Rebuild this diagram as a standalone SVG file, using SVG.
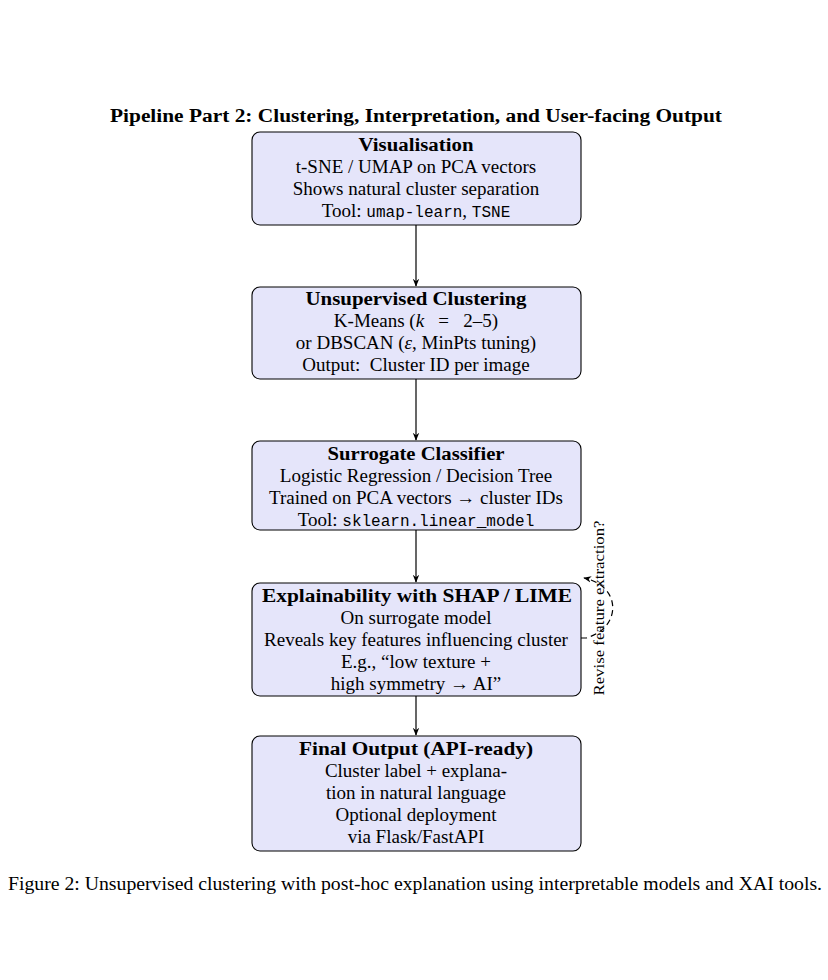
<svg xmlns="http://www.w3.org/2000/svg" width="828" height="980" viewBox="0 0 828 980">
<defs>
<style>
.box{fill:#e5e5fa;stroke:#000;stroke-width:1.1}
.t{font-family:"Liberation Serif","DejaVu Serif",serif;font-size:19px;fill:#000;text-anchor:middle;white-space:pre}
.b{font-weight:bold;font-size:18px}
.m{font-family:"Liberation Mono","DejaVu Sans Mono",monospace;font-size:16px}
.e{stroke:#000;stroke-width:1.2;fill:none}
</style>
<marker id="ah" viewBox="0 0 10 10" refX="9" refY="5" markerWidth="8" markerHeight="8" orient="auto" markerUnits="userSpaceOnUse">
<path d="M0,1 L10,5 L0,9 L3,5 Z" fill="#000"/>
</marker>
</defs>
<rect width="828" height="980" fill="#fff"/>
<text class="t b" x="416" y="122" textLength="612" lengthAdjust="spacingAndGlyphs">Pipeline Part 2: Clustering, Interpretation, and User-facing Output</text>

<g id="connectors">
<line class="e" x1="416" y1="225" x2="416" y2="286" marker-end="url(#ah)"/>
<line class="e" x1="416" y1="379" x2="416" y2="440" marker-end="url(#ah)"/>
<line class="e" x1="416" y1="530" x2="416" y2="582" marker-end="url(#ah)"/>
<line class="e" x1="416" y1="696" x2="416" y2="735" marker-end="url(#ah)"/>
<path class="e" d="M581,638 L586,638 C622,628 622,586 584,578" stroke-dasharray="6 4" marker-end="url(#ah)"/>
<text class="t" style="font-size:14px" x="604" y="608" transform="rotate(-90 604 608)" textLength="175" lengthAdjust="spacingAndGlyphs">Revise feature extraction?</text>
</g>

<g id="visualisation">
<rect class="box" x="252" y="132" width="329" height="93" rx="8"/>
<text class="t b" x="416" y="151" textLength="115" lengthAdjust="spacingAndGlyphs">Visualisation</text>
<text class="t" x="416" y="173">t-SNE / UMAP on PCA vectors</text>
<text class="t" x="416" y="195">Shows natural cluster separation</text>
<text class="t" x="416" y="217">Tool: <tspan class="m">umap-learn</tspan>, <tspan class="m">TSNE</tspan></text>
</g>

<g id="clustering">
<rect class="box" x="252" y="287" width="329" height="92" rx="8"/>
<text class="t b" x="416" y="305" textLength="221" lengthAdjust="spacingAndGlyphs">Unsupervised Clustering</text>
<text class="t" x="416" y="327">K-Means (<tspan font-style="italic">k</tspan>   =   2–5)</text>
<text class="t" x="416" y="349">or DBSCAN (<tspan font-style="italic">ε</tspan>, MinPts tuning)</text>
<text class="t" x="416" y="371">Output:  Cluster ID per image</text>
</g>

<g id="surrogate">
<rect class="box" x="252" y="441" width="329" height="89" rx="8"/>
<text class="t b" x="416" y="460" textLength="177" lengthAdjust="spacingAndGlyphs">Surrogate Classifier</text>
<text class="t" x="416" y="482">Logistic Regression / Decision Tree</text>
<text class="t" x="416" y="504">Trained on PCA vectors → cluster IDs</text>
<text class="t" x="416" y="526">Tool: <tspan class="m">sklearn.linear_model</tspan></text>
</g>

<g id="explainability">
<rect class="box" x="252" y="583" width="329" height="113" rx="8"/>
<text class="t b" x="417" y="602" textLength="310" lengthAdjust="spacingAndGlyphs">Explainability with SHAP / LIME</text>
<text class="t" x="416" y="624">On surrogate model</text>
<text class="t" x="416" y="646">Reveals key features influencing cluster</text>
<text class="t" x="416" y="668">E.g., “low texture +</text>
<text class="t" x="416" y="690">high symmetry → AI”</text>
</g>

<g id="final">
<rect class="box" x="252" y="736" width="329" height="115" rx="8"/>
<text class="t b" x="416" y="755" textLength="234" lengthAdjust="spacingAndGlyphs">Final Output (API-ready)</text>
<text class="t" x="416" y="777">Cluster label + explana-</text>
<text class="t" x="416" y="799">tion in natural language</text>
<text class="t" x="416" y="821">Optional deployment</text>
<text class="t" x="416" y="843">via Flask/FastAPI</text>
</g>

<text class="t" x="415" y="890" textLength="814" lengthAdjust="spacingAndGlyphs">Figure 2: Unsupervised clustering with post-hoc explanation using interpretable models and XAI tools.</text>
</svg>
